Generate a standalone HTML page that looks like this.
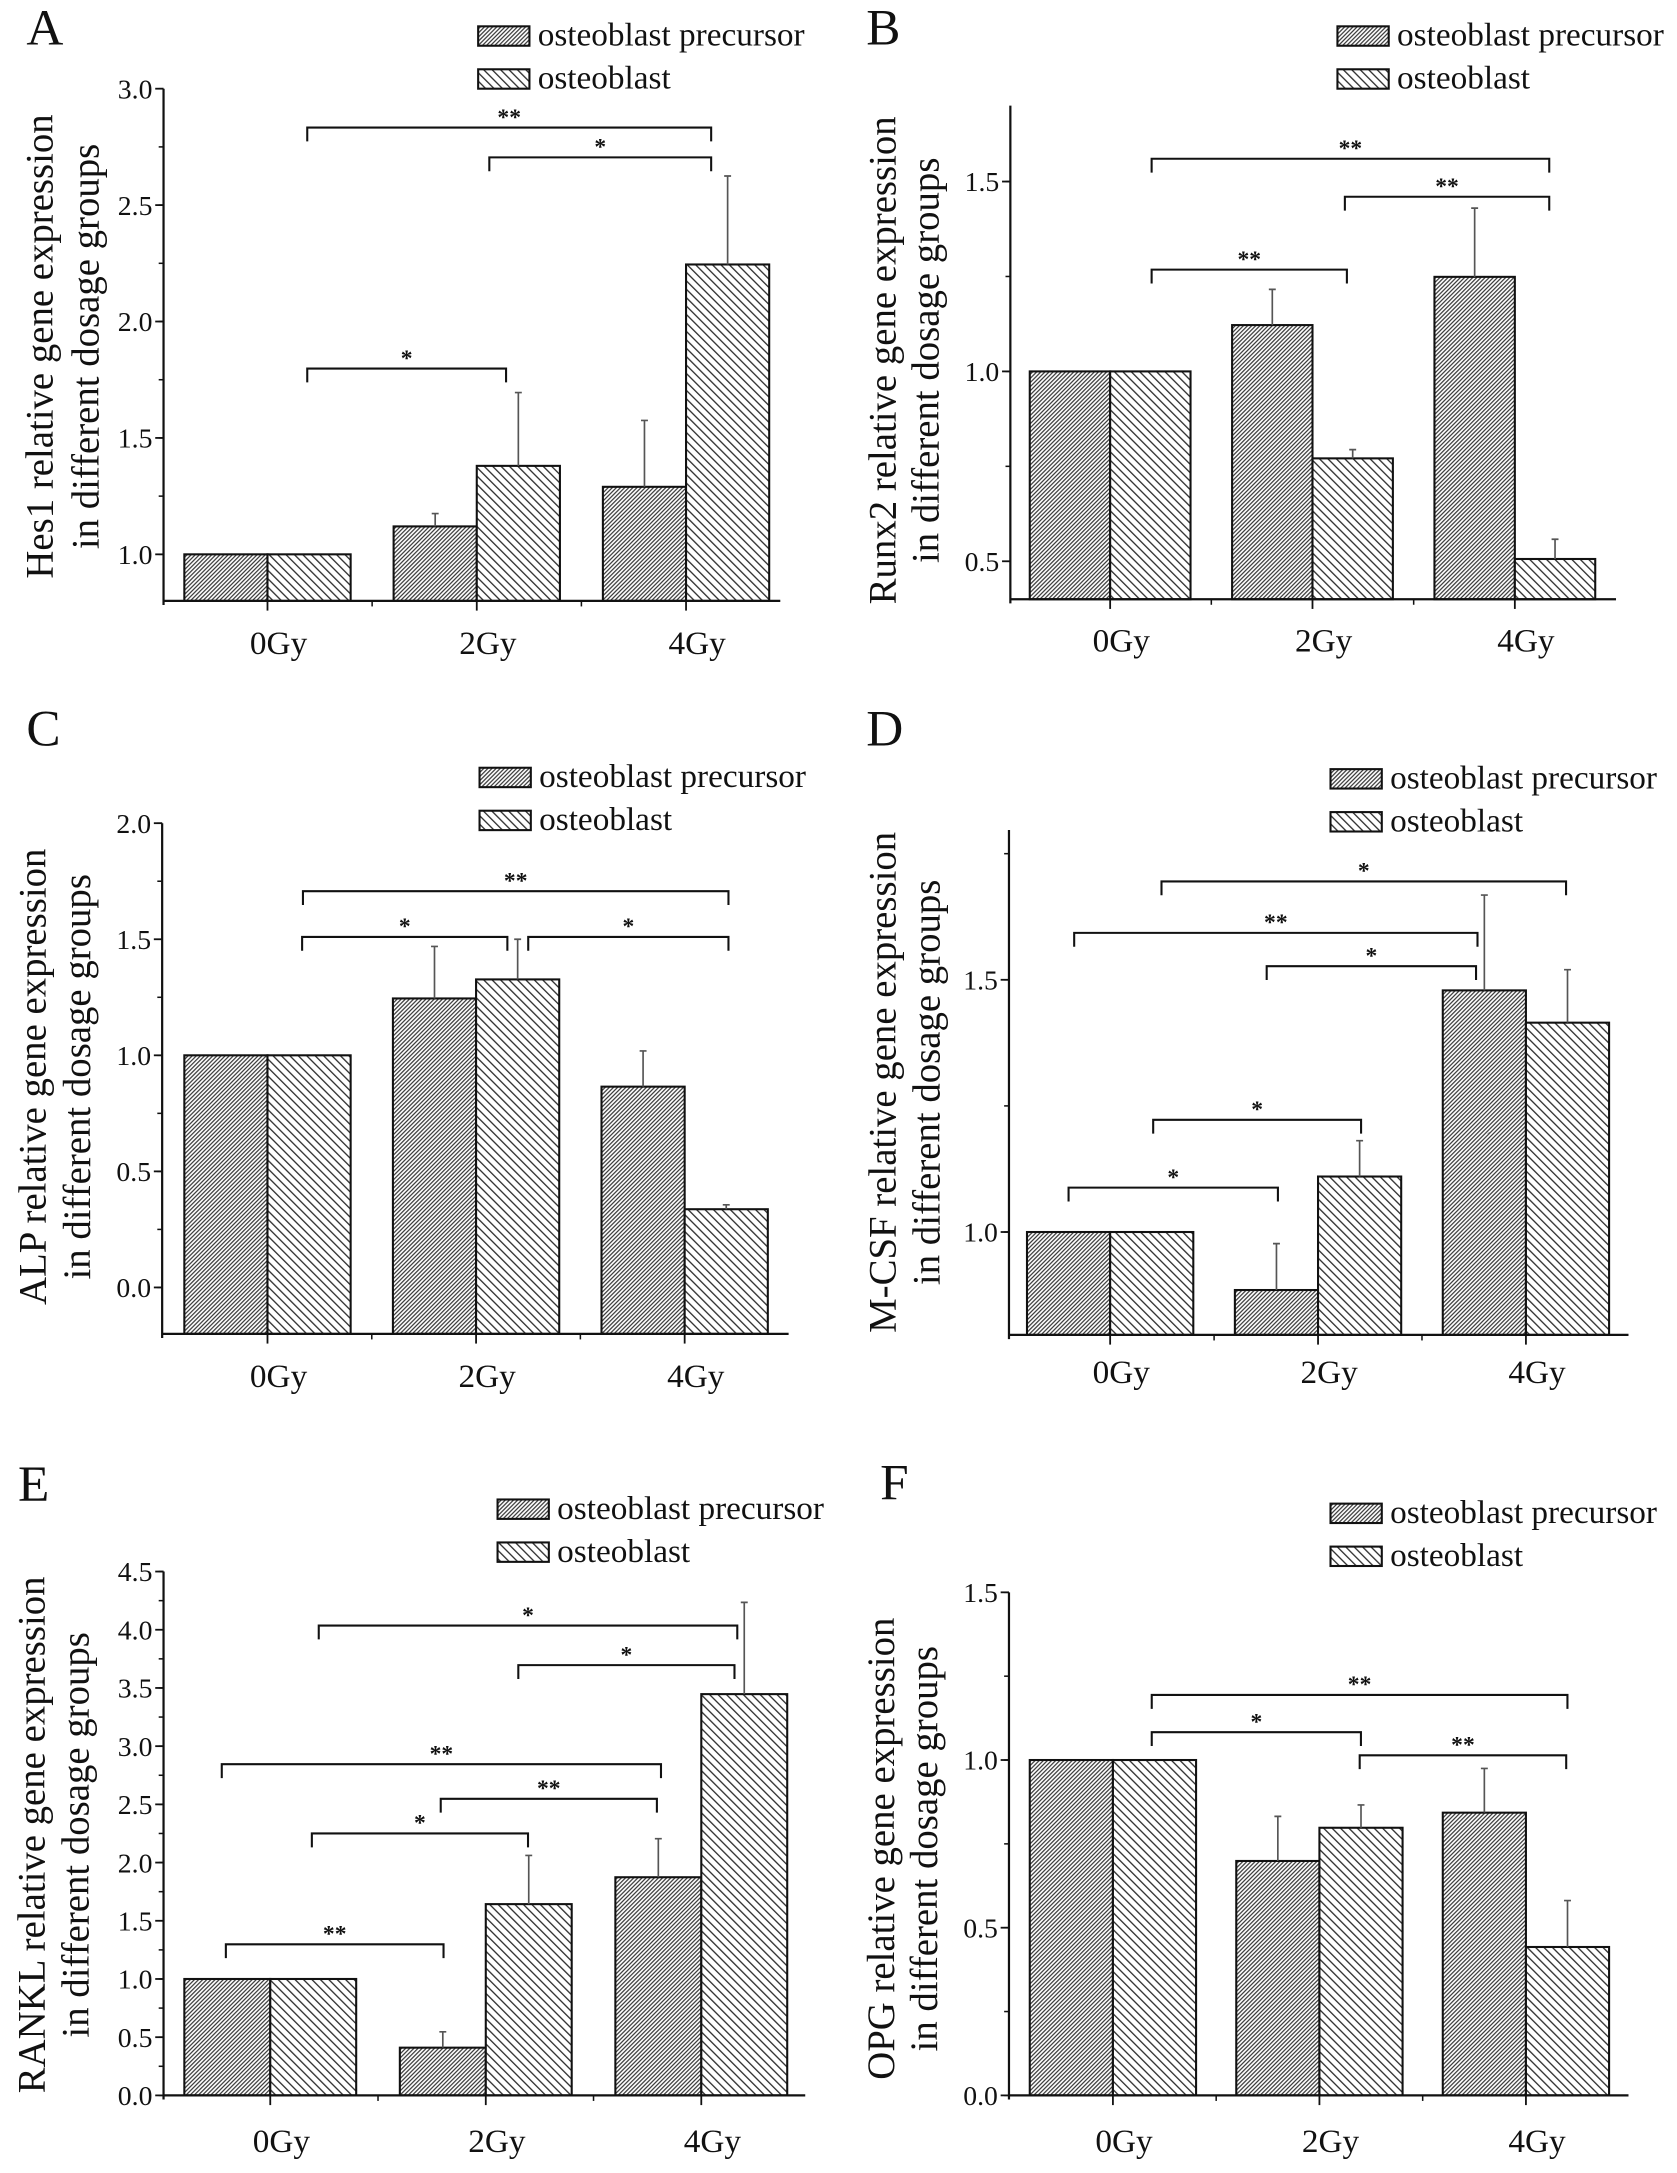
<!DOCTYPE html>
<html><head><meta charset="utf-8"><style>
html,body{margin:0;padding:0;background:#fff;}
svg{display:block;}
text{font-family:"Liberation Serif","Times New Roman",serif;fill:#111;}
</style></head><body>
<svg id="fig" xmlns="http://www.w3.org/2000/svg" width="1677" height="2173" viewBox="0 0 1210 1568" preserveAspectRatio="none">
<defs>
<pattern id="hatchPrec" patternUnits="userSpaceOnUse" width="2.1" height="10" patternTransform="rotate(45)"><line x1="0.5" y1="0" x2="0.5" y2="10" stroke="#222" stroke-width="0.8"/></pattern>
<pattern id="hatchOst" patternUnits="userSpaceOnUse" width="4.3" height="10" patternTransform="rotate(-45)"><line x1="0.5" y1="0" x2="0.5" y2="10" stroke="#222" stroke-width="0.9"/></pattern>
</defs>
</svg>
<script>
const categories = ["0Gy","2Gy","4Gy"];
// Panel A: Hes1
const aPrec = [1.0, 1.12, 1.29];
const aPrecErr = [0, 0.055, 0.285];
const aOst = [1.0, 1.38, 2.245];
const aOstErr = [0, 0.315, 0.38];
const aTicks = ["1.0","1.5","2.0","2.5","3.0"];
// Panel B: Runx2
const bPrec = [1.0, 1.122, 1.249];
const bPrecErr = [0, 0.094, 0.181];
const bOst = [1.0, 0.771, 0.506];
const bOstErr = [0, 0.023, 0.052];
const bTicks = ["0.5","1.0","1.5"];
// Panel C: ALP
const cPrec = [1.0, 1.245, 0.865];
const cPrecErr = [0, 0.224, 0.154];
const cOst = [1.0, 1.327, 0.337];
const cOstErr = [0, 0.173, 0.019];
const cTicks = ["0.0","0.5","1.0","1.5","2.0"];
// Panel D: M-CSF
const dPrec = [1.0, 0.885, 1.479];
const dPrecErr = [0, 0.092, 0.189];
const dOst = [1.0, 1.11, 1.415];
const dOstErr = [0, 0.071, 0.105];
const dTicks = ["1.0","1.5"];
// Panel E: RANKL
const ePrec = [1.0, 0.41, 1.874];
const ePrecErr = [0, 0.136, 0.331];
const eOst = [1.0, 1.643, 3.447];
const eOstErr = [0, 0.418, 0.788];
const eTicks = ["0.0","0.5","1.0","1.5","2.0","2.5","3.0","3.5","4.0","4.5"];
// Panel F: OPG
const fPrec = [1.0, 0.699, 0.843];
const fPrecErr = [0, 0.133, 0.132];
const fOst = [1.0, 0.798, 0.4425];
const fOstErr = [0, 0.068, 0.1385];
const fTicks = ["0.0","0.5","1.0","1.5"];
// significance brackets: [catFrom, catTo, value, label]
const aSig = [[0.19,2.12,2.833,"**"],[1.06,2.12,2.705,"*"],[0.19,1.14,1.798,"*"]];
const bSig = [[0.205,2.17,1.56,"**"],[1.16,2.17,1.46,"**"],[0.205,1.17,1.268,"**"]];
const cSig = [[0.17,2.21,1.707,"**"],[0.166,1.15,1.51,"*"],[1.25,2.21,1.51,"*"]];
const dSig = [[0.247,2.193,1.695,"*"],[-0.173,1.767,1.593,"**"],[0.753,1.76,1.527,"*"],[0.207,1.207,1.2225,"*"],[-0.2,0.807,1.088,"*"]];
const eSig = [[0.225,2.167,4.036,"*"],[1.151,2.154,3.696,"*"],[-0.225,1.813,2.845,"**"],[0.791,1.794,2.548,"**"],[0.193,1.196,2.25,"*"],[-0.206,0.804,1.298,"**"]];
const fSig = [[0.188,2.201,1.194,"**"],[0.188,1.201,1.083,"*"],[1.195,2.195,1.014,"**"]];

const panels = [
 {id:"a",letter:"A",gene:"Hes1",prec:aPrec,precErr:aPrecErr,ost:aOst,ostErr:aOstErr,ticks:aTicks,sig:aSig,
  ax:118,xend:563,c0:193,sp:151,bw:60,y0v:1.0,y0p:400,ppu:168,vmin:0.8,vmax:3.0,minor:0.25,
  letterX:19,letterY:32,legX:345,legY:19,lab1:38,lab2:71,labC:250,catY:472},
 {id:"b",letter:"B",gene:"Runx2",prec:bPrec,precErr:bPrecErr,ost:bOst,ostErr:bOstErr,ticks:bTicks,sig:bSig,
  ax:729,xend:1166,c0:801,sp:146,bw:58,y0v:1.0,y0p:268,ppu:274,vmin:0.40,vmax:1.70,minor:0.25,
  letterX:625,letterY:32,legX:965,legY:19,lab1:646,lab2:677,labC:260,catY:470},
 {id:"c",letter:"C",gene:"ALP",prec:cPrec,precErr:cPrecErr,ost:cOst,ostErr:cOstErr,ticks:cTicks,sig:cSig,
  ax:117,xend:569,c0:193,sp:150.5,bw:60,y0v:0,y0p:929,ppu:167.5,vmin:-0.2,vmax:2.0,minor:0.25,
  letterX:19,letterY:538,legX:346,legY:554,lab1:33,lab2:65,labC:777,catY:1001},
 {id:"d",letter:"D",gene:"M-CSF",prec:dPrec,precErr:dPrecErr,ost:dOst,ostErr:dOstErr,ticks:dTicks,sig:dSig,
  ax:728,xend:1175,c0:801,sp:150,bw:60,y0v:1.0,y0p:889,ppu:364,vmin:0.796,vmax:1.797,minor:0.25,
  letterX:625,letterY:538,legX:960,legY:555,lab1:646,lab2:678,labC:781,catY:998},
 {id:"e",letter:"E",gene:"RANKL",prec:ePrec,precErr:ePrecErr,ost:eOst,ostErr:eOstErr,ticks:eTicks,sig:eSig,
  ax:118,xend:581,c0:195,sp:155.5,bw:62,y0v:0,y0p:1512,ppu:84,vmin:0,vmax:4.5,minor:0.25,
  letterX:13,letterY:1083,legX:359,legY:1082,lab1:32,lab2:64,labC:1324,catY:1553},
 {id:"f",letter:"F",gene:"OPG",prec:fPrec,precErr:fPrecErr,ost:fOst,ostErr:fOstErr,ticks:fTicks,sig:fSig,
  ax:728,xend:1175,c0:803,sp:149,bw:60,y0v:0,y0p:1512,ppu:242,vmin:0,vmax:1.5,minor:0.25,
  letterX:635,letterY:1082,legX:960,legY:1085,lab1:645,lab2:676,labC:1334,catY:1553}
];

const NS="http://www.w3.org/2000/svg";
const svg=document.getElementById("fig");
function mk(tag, attrs, parent){const e=document.createElementNS(NS,tag);for(const k in attrs)e.setAttribute(k,attrs[k]);(parent||svg).appendChild(e);return e;}

panels.forEach(p=>{
  const g=mk("g",{});
  
  
  const y=v=>p.y0p-(v-p.y0v)*p.ppu;
  const xc=i=>p.c0+i*p.sp;
  const yTop=y(p.vmax), yBot=y(p.vmin);

  const lt=mk("text",{x:p.letterX,y:p.letterY,"font-size":37},g); lt.textContent=p.letter;
  
  

  [["prec","precErr","url(#hatchPrec)",-1],["ost","ostErr","url(#hatchOst)",0]].forEach(([sk,ek,fill,off])=>{
    p[sk].forEach((v,i)=>{
      const x0=xc(i)+off*p.bw;
      const yb=yBot;
      mk("rect",{x:x0,y:y(v),width:p.bw,height:yb-y(v),fill:"#fff"},g);
      const r2=mk("rect",{x:x0,y:y(v),width:p.bw,height:yb-y(v),fill:fill,stroke:"#111","stroke-width":1.5},g);
      
      
      const e=p[ek][i];
      if(e>0){
        const cx=x0+p.bw/2;
        const el=mk("path",{d:`M${cx},${y(v)}V${y(v+e)}M${cx-2.5},${y(v+e)}H${cx+2.5}`,stroke:"#555","stroke-width":1.2,fill:"none"},g);
        
        
      }
    });
  });

  const yaxis=mk("line",{x1:p.ax,y1:yTop,x2:p.ax,y2:yBot+3,stroke:"#111","stroke-width":1.6},g);
  
  
  const xaxis=mk("line",{x1:p.ax,y1:yBot,x2:p.xend,y2:yBot,stroke:"#111","stroke-width":1.6},g);
  
  
  p.ticks.forEach(t=>{
    const v=parseFloat(t), ty=y(v);
    mk("line",{x1:p.ax-6,y1:ty,x2:p.ax,y2:ty,stroke:"#111","stroke-width":1.3},g);
    const tl=mk("text",{x:p.ax-8,y:ty+7,"font-size":20,"text-anchor":"end"},g); tl.textContent=t;
    
    
  });
  for(let v=Math.ceil(p.vmin/p.minor)*p.minor; v<=p.vmax+1e-9; v+=p.minor){
    const ty=y(v); mk("line",{x1:p.ax-3.5,y1:ty,x2:p.ax,y2:ty,stroke:"#111","stroke-width":1.1},g);
  }
  categories.forEach((c,i)=>{
    mk("line",{x1:xc(i),y1:yBot,x2:xc(i),y2:yBot+7,stroke:"#111","stroke-width":1.3},g);
    if(i<2) mk("line",{x1:xc(i)+p.sp/2,y1:yBot,x2:xc(i)+p.sp/2,y2:yBot+4,stroke:"#111","stroke-width":1.1},g);
    const cl=mk("text",{x:xc(i)+8,y:p.catY,"font-size":24,"text-anchor":"middle"},g); cl.textContent=c;
    
    
  });

  const t1=mk("text",{x:0,y:0,"font-size":28,"text-anchor":"middle",transform:`translate(${p.lab1},${p.labC}) rotate(-90)`},g);
  t1.textContent=p.gene+" relative gene expression";
  
  
  const t2=mk("text",{x:0,y:0,"font-size":28,"text-anchor":"middle",transform:`translate(${p.lab2},${p.labC}) rotate(-90)`},g);
  t2.textContent="in different dosage groups";
  
  

  [["osteoblast precursor","url(#hatchPrec)"],["osteoblast","url(#hatchOst)"]].forEach(([name,fill],k)=>{
    const ly=p.legY+k*31;
    mk("rect",{x:p.legX,y:ly,width:37,height:14,fill:"#fff"},g);
    const b=mk("rect",{x:p.legX,y:ly,width:37,height:14,fill:fill,stroke:"#111","stroke-width":1.5},g);
    
    
    const lt2=mk("text",{x:p.legX+43,y:ly+14,"font-size":24},g); lt2.textContent=name;
    
    
  });

  p.sig.forEach(s=>{
    const x1=xc(s[0]), x2=xc(s[1]), by=y(s[2]);
    const br=mk("path",{d:`M${x1},${by+10}V${by}H${x2}V${by+10}`,stroke:"#111","stroke-width":1.5,fill:"none"},g);
    
    
    const st=mk("text",{x:(x1+x2)/2,y:by-2,"font-size":17,"font-weight":"bold","text-anchor":"middle"},g); st.textContent=s[3];
    
    
  });
});
</script>
</body></html>
